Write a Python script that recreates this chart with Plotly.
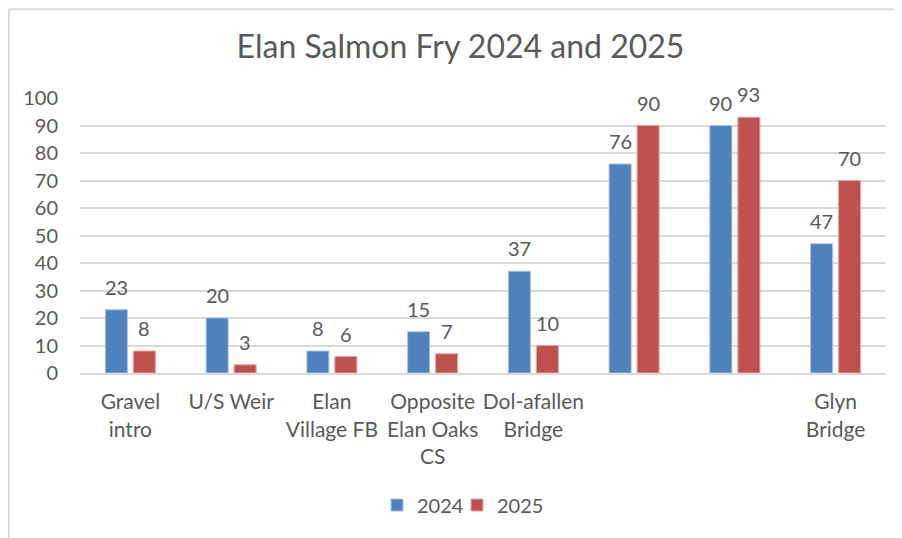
import plotly.graph_objects as go

categories = ["Gravel<br>intro", "U/S Weir", "Elan<br>Village FB", "Opposite<br>Elan Oaks<br>CS",
              "Dol-afallen<br>Bridge", "", "", "Glyn<br>Bridge"]
values_2024 = [23, 20, 8, 15, 37, 76, 90, 47]
values_2025 = [8, 3, 6, 7, 10, 90, 93, 70]
y_ticks = [0, 10, 20, 30, 40, 50, 60, 70, 80, 90, 100]

x_pos = list(range(len(categories)))
FONT = "Lato"
GREY = "#595959"
BLUE = "#4f81bd"
RED = "#c0504d"

W, H = 894, 530
ML, MR, MT, MB = 72, 16.3, 89.7, 165.3
PW, PH = W - ML - MR, H - MT - MB

fig = go.Figure()
fig.add_trace(go.Bar(x=x_pos, y=values_2024, name="2024", marker_color=BLUE,
                     marker_line=dict(color="#a7c0de", width=1), legend="legend"))
fig.add_trace(go.Bar(x=x_pos, y=values_2025, name="2025", marker_color=RED,
                     marker_line=dict(color="#dfa8a6", width=1), legend="legend2"))

# Data labels (above each bar)
for vals, shift in ((values_2024, -14), (values_2025, 14)):
    for xi, v in zip(x_pos, vals):
        fig.add_annotation(x=xi, y=v, text=str(v), showarrow=False, xshift=shift, yshift=23,
                           xanchor="center", yanchor="middle",
                           font=dict(size=20, color=GREY, family=FONT))

legend_style = dict(orientation="h", xanchor="left", xref="container",
                    y=1 - 497 / H, yref="container", yanchor="middle",
                    font=dict(size=20, color=GREY, family=FONT),
                    itemwidth=30, bgcolor="rgba(0,0,0,0)")

fig.update_layout(
    width=W, height=H,
    margin=dict(l=ML, r=MR, t=MT, b=MB),
    paper_bgcolor="white", plot_bgcolor="white",
    font=dict(family=FONT, color=GREY, size=20),
    title=dict(text="Elan Salmon Fry 2024 and 2025", x=452.5 / W, xref="container", xanchor="center",
               y=1 - 39 / H, yref="container", yanchor="middle",
               font=dict(size=32, color=GREY, family=FONT)),
    barmode="group", bargap=0.444, bargroupgap=0.214,
    showlegend=True,
    legend=dict(legend_style, x=369 / W),
    legend2=dict(legend_style, x=449 / W),
    xaxis=dict(tickmode="array", tickvals=x_pos, ticktext=categories,
               range=[-0.5, len(categories) - 0.5], showgrid=False,
               showline=True, linecolor="#d9d9d9", linewidth=2,
               ticks="", ticklabelstandoff=9, tickfont=dict(size=21, color=GREY)),
    yaxis=dict(range=[0, 100], tickmode="array", tickvals=y_ticks,
               showgrid=True, gridcolor="#d9d9d9", gridwidth=1.5,
               zeroline=False, showline=False, ticks="", ticklabelstandoff=21,
               tickfont=dict(size=20, color=GREY)),
)

# Chart frame (left and top edges visible in the cropped image)
def px_x(p):
    return (p - ML) / PW

def px_y(p):
    return (H - MB - p) / PH

fig.add_shape(type="line", xref="paper", yref="paper",
              x0=px_x(1), x1=px_x(W), y0=px_y(1), y1=px_y(1),
              line=dict(color="#d9d9d9", width=2))
fig.add_shape(type="line", xref="paper", yref="paper",
              x0=px_x(1), x1=px_x(1), y0=px_y(1), y1=px_y(H),
              line=dict(color="#d9d9d9", width=2))

fig.write_html("out.html")
